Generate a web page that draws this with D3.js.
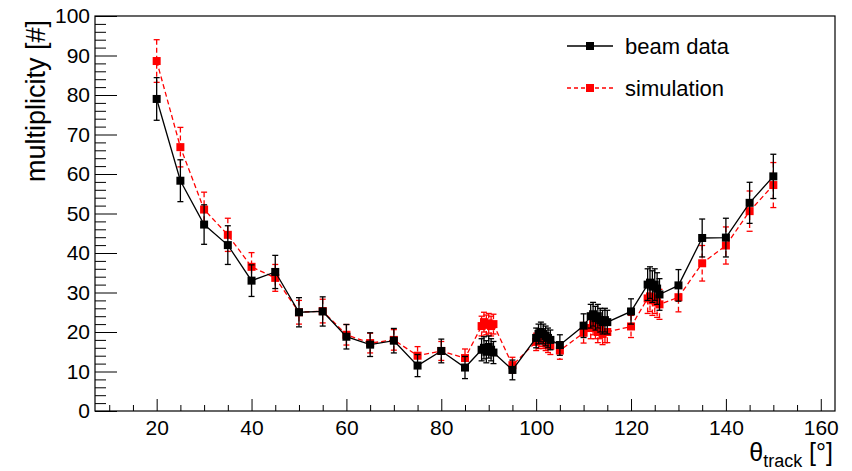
<!DOCTYPE html>
<html>
<head>
    <meta charset="UTF-8">
    <title>multiplicity vs theta</title>
    <script src="https://d3js.org/d3.v7.min.js"></script>
    <style>
        body { margin: 0; background: #fff; }
        text { font-family: "Liberation Sans", Arial, Helvetica, sans-serif; }
    </style>
</head>
<body>
<script>
    // beam data (black, solid)
    var beamTheta = [20, 25, 30, 35, 40, 45, 50, 55, 60, 65, 70, 75, 80, 85,
        88.5, 89, 89.5, 90, 90.5, 91, 95,
        100, 100.5, 101, 101.5, 102, 102.5, 103, 105, 110,
        111.5, 112, 112.5, 113, 113.5, 114, 114.5, 115, 120,
        123.5, 124, 124.5, 125, 125.5, 126, 130, 135, 140, 145, 150];
    var beamMult = [79, 58.3, 47.2, 42, 33, 35.2, 25, 25.2, 18.8, 16.8, 17.8, 11.5, 15.2, 11,
        15.5, 16, 15, 16.2, 15.5, 14.8, 10.4,
        18.5, 19.5, 20, 19.5, 19, 18.5, 18, 16.7, 21.6,
        24, 24.5, 23.5, 24, 23, 22.5, 23, 22.5, 25.2,
        32, 32.5, 31.5, 32, 31, 29.5, 31.8, 43.8, 43.9, 52.7, 59.4];
    var beamErr = [5.4, 5.3, 5, 4.9, 4, 4.2, 3.7, 3.7, 3.1, 3, 3.1, 2.8, 3, 2.8,
        2.8, 2.8, 2.8, 2.8, 2.8, 2.8, 2.5,
        2.5, 2.5, 2.5, 2.5, 2.5, 2.5, 2.5, 2.6, 3,
        3, 3, 3, 3, 3, 3, 3, 3, 3.2,
        4, 4, 4, 4, 4, 4, 4, 4.8, 4.9, 5.2, 5.6];

    // simulation (red, dashed)
    var simTheta = beamTheta;
    var simMult = [88.6, 66.8, 51, 44.6, 36.5, 33.7, 25, 25.3, 19.3, 17.2, 18, 14, 15.2, 13.4,
        21.5, 22.5, 21.8, 22.2, 21.5, 22, 11.6,
        17.5, 18, 18.5, 18, 17.5, 17, 16.5, 15.3, 19.8,
        21, 22, 21, 20, 21, 19.5, 20, 20, 21.4,
        28.5, 29, 28, 28.5, 27.5, 27, 28.8, 37.4, 41.9, 50.6, 57.2];
    var simErr = [5.4, 5, 4.4, 4.2, 3.6, 3.4, 3, 3, 2.6, 2.5, 2.6, 2.3, 2.4, 2.3,
        2.5, 2.5, 2.5, 2.5, 2.5, 2.5, 2,
        2.2, 2.2, 2.2, 2.2, 2.2, 2.2, 2.2, 2.2, 2.6,
        2.7, 2.7, 2.7, 2.7, 2.7, 2.7, 2.7, 2.7, 2.8,
        3.8, 3.8, 3.8, 3.8, 3.8, 3.8, 3.7, 4.5, 4.7, 5.1, 5.7];

    var xMajor = [20, 40, 60, 80, 100, 120, 140, 160];
    var yMajor = [0, 10, 20, 30, 40, 50, 60, 70, 80, 90, 100];

    var width = 852, height = 471;
    var frame = { left: 95, right: 835, top: 16, bottom: 411 };

    var svg = d3.select("body").append("svg")
        .attr("width", width)
        .attr("height", height);

    var x = d3.scaleLinear().domain([7, 163]).range([frame.left, frame.right]);
    var y = d3.scaleLinear().domain([0, 100]).range([frame.bottom, frame.top]);

    // minor ticks
    var xMinor = d3.range(10, 163, 5).filter(function (d) { return d % 20 !== 0; });
    var yMinor = d3.range(0, 101, 2).filter(function (d) { return d % 10 !== 0; });

    svg.append("g")
        .attr("transform", "translate(0," + frame.bottom + ")")
        .call(d3.axisBottom(x).tickValues(xMinor).tickSize(-6).tickFormat(""))
        .call(function (g) { g.select(".domain").remove(); });

    svg.append("g")
        .attr("transform", "translate(0," + frame.bottom + ")")
        .call(d3.axisBottom(x).tickValues(xMajor).tickSize(-12).tickPadding(9).tickFormat(d3.format("d")))
        .call(function (g) {
            g.select(".domain").remove();
            g.selectAll("text").attr("font-size", 21).attr("fill", "#000");
        });

    svg.append("g")
        .attr("transform", "translate(" + frame.left + ",0)")
        .call(d3.axisLeft(y).tickValues(yMinor).tickSize(-11).tickFormat(""))
        .call(function (g) { g.select(".domain").remove(); });

    svg.append("g")
        .attr("transform", "translate(" + frame.left + ",0)")
        .call(d3.axisLeft(y).tickValues(yMajor).tickSize(-22).tickPadding(5).tickFormat(d3.format("d")))
        .call(function (g) {
            g.select(".domain").remove();
            g.selectAll("text").attr("font-size", 21).attr("fill", "#000");
        });

    svg.selectAll(".tick line").attr("stroke", "#000").attr("stroke-width", 1);

    // frame box
    svg.append("rect")
        .attr("x", frame.left).attr("y", frame.top)
        .attr("width", frame.right - frame.left)
        .attr("height", frame.bottom - frame.top)
        .attr("fill", "none").attr("stroke", "#000").attr("stroke-width", 1.2);

    // axis titles
    svg.append("text")
        .attr("transform", "translate(45," + (frame.top + 4) + ") rotate(-90)")
        .attr("text-anchor", "end")
        .attr("font-size", 27)
        .text("multiplicity [#]");

    var xt = svg.append("text")
        .attr("x", frame.right - 2)
        .attr("y", 461)
        .attr("text-anchor", "end")
        .attr("font-size", 25);
    xt.append("tspan").text("\u03b8");
    xt.append("tspan").attr("font-size", 18).attr("dy", 6).text("track");
    xt.append("tspan").attr("dy", -6).text(" [\u00b0]");

    function drawSeries(theta, mult, err, color, dash) {
        var pts = theta.map(function (t, i) { return { t: t, v: mult[i], e: err[i] }; });
        var g = svg.append("g");
        var line = d3.line()
            .x(function (d) { return x(d.t); })
            .y(function (d) { return y(d.v); });

        g.append("path")
            .attr("d", line(pts))
            .attr("fill", "none")
            .attr("stroke", color)
            .attr("stroke-width", 1.3)
            .attr("stroke-dasharray", dash);

        var eb = g.selectAll(".err").data(pts).enter().append("g");
        eb.append("line")
            .attr("x1", function (d) { return x(d.t); })
            .attr("x2", function (d) { return x(d.t); })
            .attr("y1", function (d) { return y(d.v + d.e); })
            .attr("y2", function (d) { return y(d.v - d.e); })
            .attr("stroke", color).attr("stroke-width", 1.3)
            .attr("stroke-dasharray", dash);
        [1, -1].forEach(function (s) {
            eb.append("line")
                .attr("x1", function (d) { return x(d.t) - 3; })
                .attr("x2", function (d) { return x(d.t) + 3; })
                .attr("y1", function (d) { return y(d.v + s * d.e); })
                .attr("y2", function (d) { return y(d.v + s * d.e); })
                .attr("stroke", color).attr("stroke-width", 1.3);
        });

        g.selectAll(".pt").data(pts).enter().append("rect")
            .attr("x", function (d) { return x(d.t) - 4; })
            .attr("y", function (d) { return y(d.v) - 4; })
            .attr("width", 8).attr("height", 8)
            .attr("fill", color);
    }

    drawSeries(simTheta, simMult, simErr, "#ff0000", "5,3");
    drawSeries(beamTheta, beamMult, beamErr, "#000000", null);

    // legend
    var legend = svg.append("g");
    var legItems = [
        { label: "beam data", color: "#000000", dash: null, y: 46 },
        { label: "simulation", color: "#ff0000", dash: "4,3", y: 88 }
    ];
    legItems.forEach(function (d) {
        legend.append("line")
            .attr("x1", 567).attr("x2", 613)
            .attr("y1", d.y).attr("y2", d.y)
            .attr("stroke", d.color).attr("stroke-width", 1.3)
            .attr("stroke-dasharray", d.dash);
        legend.append("rect")
            .attr("x", 586).attr("y", d.y - 4)
            .attr("width", 8).attr("height", 8)
            .attr("fill", d.color);
        legend.append("text")
            .attr("x", 625).attr("y", d.y + 8)
            .attr("font-size", 22)
            .text(d.label);
    });
</script>
</body>
</html>
